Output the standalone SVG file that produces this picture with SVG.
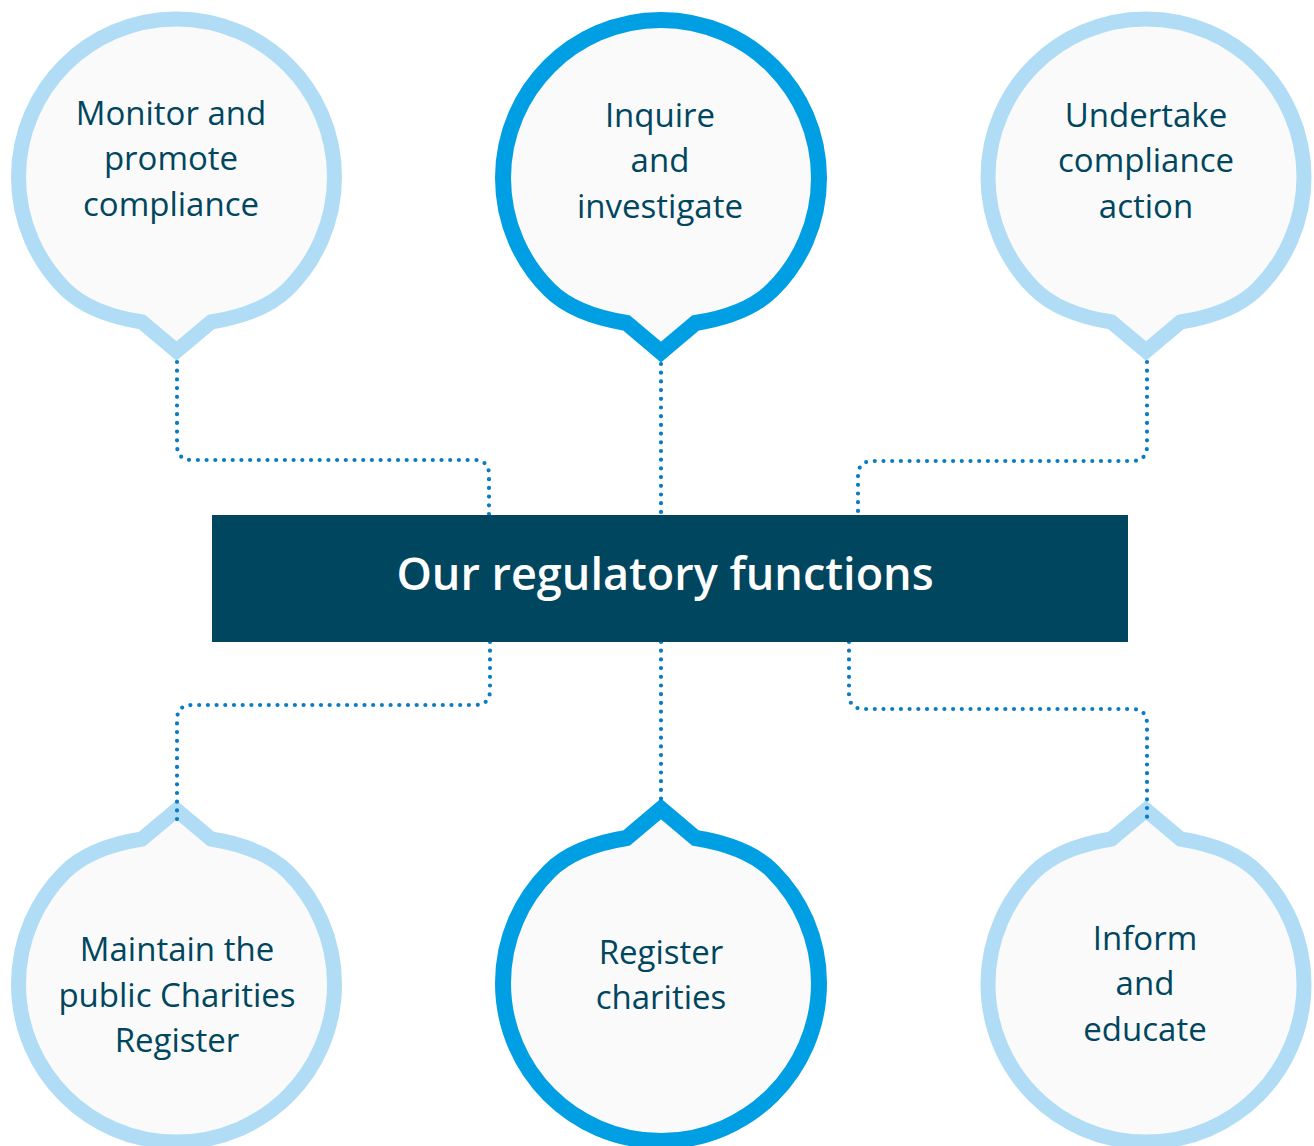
<svg xmlns="http://www.w3.org/2000/svg" xmlns:xlink="http://www.w3.org/1999/xlink" width="1314" height="1146" viewBox="0 0 1314 1146">
<style>
.bub{fill:#fafafa;stroke-width:15;stroke-linejoin:miter;stroke-miterlimit:10}
.light{stroke:#b0ddf5}
.dark{stroke:#009fe3;stroke-width:16}
.lbl{font-family:"Open Sans","Noto Sans",sans-serif;font-size:33px;fill:#00465e;text-anchor:middle}
.title{font-family:"Open Sans","Noto Sans",sans-serif;font-size:45px;font-weight:600;fill:#ffffff;text-anchor:middle}
.dots{fill:none;stroke:#0a7bc4;stroke-width:4.2;stroke-linecap:round;stroke-dasharray:0 8.7}
</style>
<defs>
<path id="bubble" d="M-111.7 111.7 Q-86.7 136.7 -34.5 145 L0 174 L34.5 145 Q86.7 136.7 111.7 111.7 A158 158 0 1 0 -111.7 111.7 Z"/>
</defs>
<rect width="1314" height="1146" fill="#ffffff"/>
<g id="node-monitor">
<use xlink:href="#bubble" class="bub light" transform="translate(176.5,177)"/>
<text class="lbl" x="171" y="125">Monitor and</text>
<text class="lbl" x="171" y="170">promote</text>
<text class="lbl" x="171" y="216">compliance</text>
</g>
<g id="node-inquire">
<use xlink:href="#bubble" class="bub dark" transform="translate(661,178)"/>
<text class="lbl" x="660" y="127">Inquire</text>
<text class="lbl" x="660" y="172">and</text>
<text class="lbl" x="660" y="218">investigate</text>
</g>
<g id="node-undertake">
<use xlink:href="#bubble" class="bub light" transform="translate(1146,177)"/>
<text class="lbl" x="1146" y="127">Undertake</text>
<text class="lbl" x="1146" y="172">compliance</text>
<text class="lbl" x="1146" y="218">action</text>
</g>
<g id="node-maintain">
<use xlink:href="#bubble" class="bub light" transform="translate(176.5,984) scale(1,-1)"/>
<text class="lbl" x="177" y="961">Maintain the</text>
<text class="lbl" x="177" y="1007">public Charities</text>
<text class="lbl" x="177" y="1052">Register</text>
</g>
<g id="node-register">
<use xlink:href="#bubble" class="bub dark" transform="translate(661,983) scale(1,-1)"/>
<text class="lbl" x="661" y="964">Register</text>
<text class="lbl" x="661" y="1009">charities</text>
</g>
<g id="node-inform">
<use xlink:href="#bubble" class="bub light" transform="translate(1146,984) scale(1,-1)"/>
<text class="lbl" x="1145" y="950">Inform</text>
<text class="lbl" x="1145" y="995">and</text>
<text class="lbl" x="1145" y="1041">educate</text>
</g>
<g id="connectors">
<path class="dots" d="M177 362 V445 Q177 460 192 460 H474 Q489 460 489 475 V515"/>
<path class="dots" d="M661 364 V515"/>
<path class="dots" d="M1147 362 V446 Q1147 461 1132 461 H873 Q858 461 858 476 V515"/>
<path class="dots" d="M490 642 V690 Q490 705 475 705 H192 Q177 705 177 720 V820"/>
<path class="dots" d="M661 642 V800"/>
<path class="dots" d="M849 642 V694 Q849 709 864 709 H1132 Q1147 709 1147 724 V820"/>
</g>
<g id="node-center">
<rect x="212" y="515" width="916" height="127" fill="#00465e"/>
<text class="title" x="665" y="590">Our regulatory functions</text>
</g>
</svg>
